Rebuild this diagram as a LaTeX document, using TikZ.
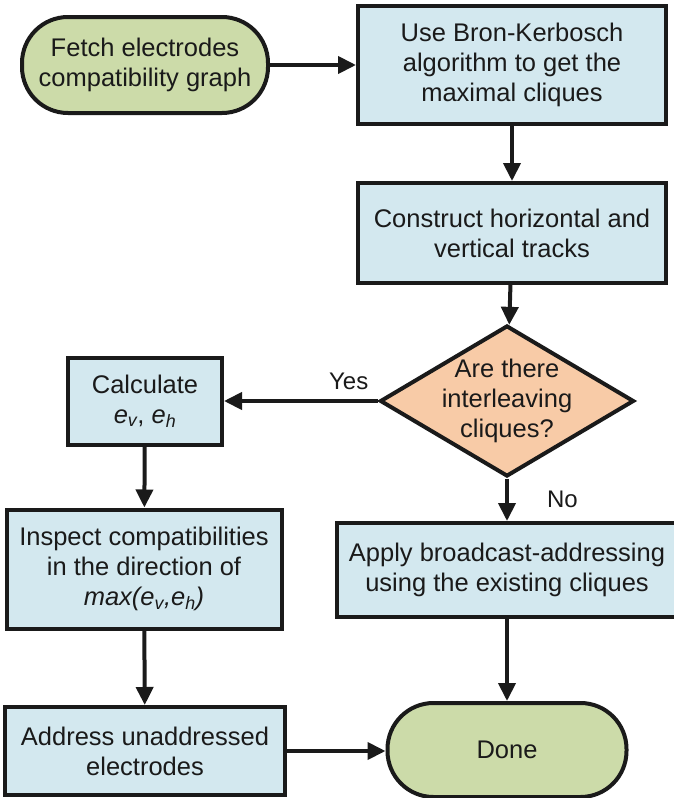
\documentclass[tikz,border=0pt]{standalone}
\usepackage{fontspec}
\setmainfont{Liberation Sans}
\usetikzlibrary{arrows.meta,shapes.geometric}
\definecolor{boxblue}{HTML}{D3E8EF}
\definecolor{termgreen}{HTML}{CCDBA9}
\definecolor{decorange}{HTML}{F8CBA7}
\definecolor{ink}{HTML}{1A1A1A}
\newcommand{\sub}[1]{\textsubscript{\itshape #1}}
\begin{document}
\begin{tikzpicture}[x=1pt,y=-1pt,
  every node/.style={font=\fontsize{25.5}{30}\selectfont, align=center, inner sep=0pt, text=ink},
  procbox/.style={draw=ink, line width=4pt, fill=boxblue, rectangle},
  terminal/.style={draw=ink, line width=4pt, fill=termgreen, rectangle, rounded corners=46pt},
  decision/.style={draw=ink, line width=4pt, fill=decorange, diamond, aspect=1.68, inner sep=-14pt},
  flow/.style={draw=ink, line width=4pt, -{Triangle[length=18pt,width=17pt]}},
  lbl/.style={font=\fontsize{24}{26}\selectfont}]
\useasboundingbox (0,0) rectangle (673,798);

% process steps
\node[terminal, minimum width=246pt, minimum height=96pt] (fetch) at (145,65)
  {Fetch electrodes\\compatibility graph};
\node[procbox, minimum width=308pt, minimum height=118pt] (bk) at (512,65)
  {Use Bron-Kerbosch\\algorithm to get the\\maximal cliques};
\node[procbox, minimum width=308pt, minimum height=100pt] (tracks) at (512,233)
  {Construct horizontal and\\vertical tracks};
\node[decision, minimum width=254pt, minimum height=151pt] (inter) at (507,401)
  {Are there\\interleaving\\cliques?};
\node[procbox, minimum width=154pt, minimum height=87pt] (calc) at (145,401)
  {Calculate\\\emph{e}\sub{v}, \emph{e}\sub{h}};
\node[procbox, minimum width=275pt, minimum height=119pt] (inspect) at (144,569)
  {Inspect compatibilities\\in the direction of\\\emph{max(e\sub{v},e\sub{h})}};
\node[procbox, minimum width=340pt, minimum height=94pt] (apply) at (507,570)
  {Apply broadcast-addressing\\using the existing cliques};
\node[procbox, minimum width=280pt, minimum height=88pt] (addr) at (145,751)
  {Address unaddressed\\electrodes};
\node[terminal, minimum width=239pt, minimum height=94pt] (done) at (507,750)
  {Done};

% connectors
\draw[flow] (fetch) -- (bk);
\draw[flow] (bk) -- (tracks);
\draw[flow] (tracks) -- (inter);
\draw[flow] (inter.west) -- (calc.east |- inter.west)
  node[lbl, pos=0.19, above=9pt] (yes) {Yes};
\draw[flow] (inter.south) -- (apply.north)
  node[lbl, pos=0.5, right=38pt] (no) {No};
\draw[flow] (calc) -- (inspect);
\draw[flow] (inspect) -- (addr);
\draw[flow] (apply) -- (done);
\draw[flow] (addr.east) -- (done.west |- addr.east);
\end{tikzpicture}
\end{document}
